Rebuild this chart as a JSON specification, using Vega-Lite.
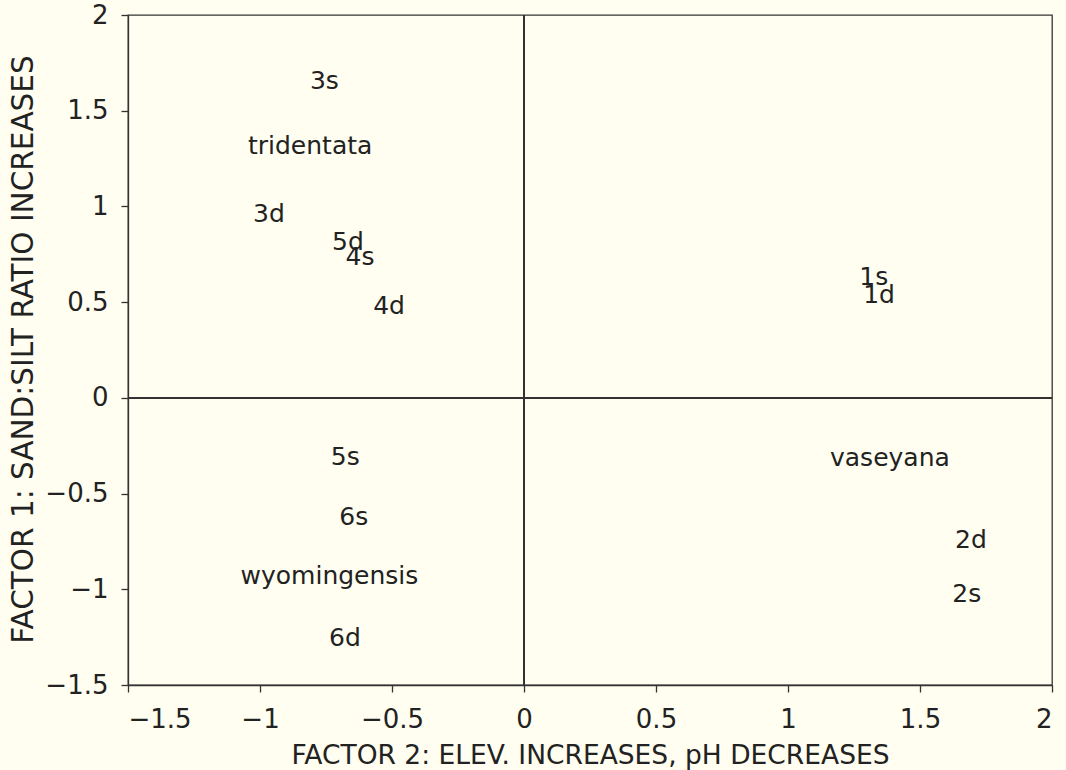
{
  "$schema": "https://vega.github.io/schema/vega-lite/v6.json",
  "width": 924,
  "height": 670,
  "autosize": {"type": "none"},
  "padding": {"left": 128, "top": 15, "right": 14, "bottom": 85},
  "background": "#fffef0",
  "config": {
    "view": {"stroke": "#333333", "strokeWidth": 1.3},
    "font": "DejaVu Sans",
    "axis": {
      "grid": false,
      "domainColor": "#333333",
      "domainWidth": 1.3,
      "tickColor": "#333333",
      "tickWidth": 1.3,
      "tickSize": 7,
      "labelFont": "DejaVu Sans",
      "labelFontSize": 26,
      "labelColor": "#222222",
      "titleFont": "DejaVu Sans",
      "titleFontWeight": "normal",
      "titleColor": "#222222"
    }
  },
  "data": {
    "values": [
      {"label": "3s", "x": -0.756, "y": 1.655},
      {"label": "tridentata", "x": -0.81, "y": 1.316},
      {"label": "3d", "x": -0.966, "y": 0.961},
      {"label": "5d", "x": -0.667, "y": 0.814},
      {"label": "4s", "x": -0.621, "y": 0.736},
      {"label": "4d", "x": -0.511, "y": 0.48},
      {"label": "1s", "x": 1.325, "y": 0.631},
      {"label": "1d", "x": 1.345, "y": 0.537},
      {"label": "vaseyana", "x": 1.386, "y": -0.313},
      {"label": "2d", "x": 1.693, "y": -0.741},
      {"label": "2s", "x": 1.677, "y": -1.025},
      {"label": "5s", "x": -0.677, "y": -0.307},
      {"label": "6s", "x": -0.645, "y": -0.621},
      {"label": "wyomingensis", "x": -0.737, "y": -0.931},
      {"label": "6d", "x": -0.678, "y": -1.256}
    ]
  },
  "layer": [
    {
      "mark": {"type": "text", "fontSize": 25, "font": "DejaVu Sans", "color": "#222222", "baseline": "middle", "align": "center"},
      "encoding": {
        "x": {
          "field": "x",
          "type": "quantitative",
          "scale": {"domain": [-1.5, 2], "nice": false, "zero": false},
          "axis": {
            "title": "FACTOR 2: ELEV. INCREASES,  pH DECREASES",
            "values": [-1.5, -1, -0.5, 0, 0.5, 1, 1.5, 2],
            "format": "~g",
            "labelPadding": 14,
            "titleFontSize": 26.5,
            "titleBaseline": "alphabetic",
            "titleY": 78
          }
        },
        "y": {
          "field": "y",
          "type": "quantitative",
          "scale": {"domain": [-1.5, 2], "nice": false, "zero": false},
          "axis": {
            "title": "FACTOR 1: SAND:SILT RATIO INCREASES",
            "values": [-1.5, -1, -0.5, 0, 0.5, 1, 1.5, 2],
            "format": "~g",
            "labelPadding": 13,
            "titleFontSize": 29.5,
            "titleBaseline": "alphabetic",
            "titleX": -96,
            "titleY": 334
          }
        },
        "text": {"field": "label", "type": "nominal"}
      }
    },
    {
      "mark": {"type": "rule", "color": "#333333", "strokeWidth": 1.2},
      "encoding": {
        "x": {
          "datum": 0,
          "type": "quantitative",
          "axis": {
            "title": "FACTOR 2: ELEV. INCREASES,  pH DECREASES",
            "values": [-1.5, -1, -0.5, 0, 0.5, 1, 1.5, 2],
            "format": "~g",
            "labelPadding": 14,
            "titleFontSize": 26.5,
            "titleBaseline": "alphabetic",
            "titleY": 78
          }
        }
      }
    },
    {
      "mark": {"type": "rule", "color": "#333333", "strokeWidth": 1.2},
      "encoding": {
        "y": {
          "datum": 0,
          "type": "quantitative",
          "axis": {
            "title": "FACTOR 1: SAND:SILT RATIO INCREASES",
            "values": [-1.5, -1, -0.5, 0, 0.5, 1, 1.5, 2],
            "format": "~g",
            "labelPadding": 13,
            "titleFontSize": 29.5,
            "titleBaseline": "alphabetic",
            "titleX": -96,
            "titleY": 334
          }
        }
      }
    }
  ]
}
